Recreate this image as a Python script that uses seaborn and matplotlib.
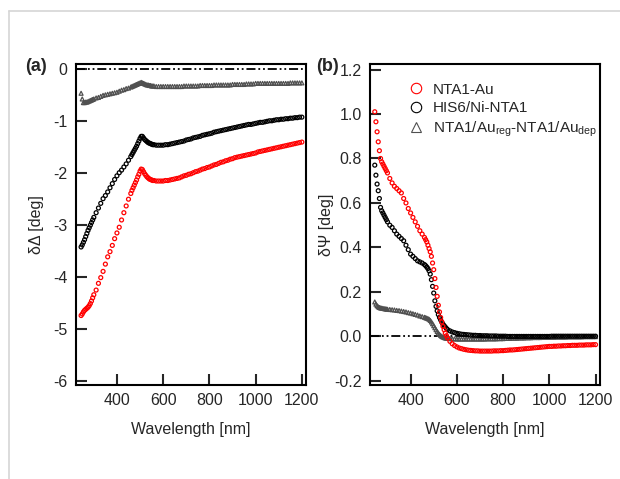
import numpy as np
import pandas as pd
import seaborn as sns
import matplotlib.pyplot as plt
from matplotlib.lines import Line2D

# wavelength grid [nm]
wavelength = np.concatenate([np.arange(245, 301, 5), np.arange(310, 451, 10),
                             np.arange(460, 561, 5), np.arange(570, 1001, 10),
                             np.arange(1010, 1201, 10)])

# (a) delta Delta [deg]
delta_nta1 = [-4.74, -4.71, -4.67, -4.64, -4.62, -4.60, -4.58, -4.55, -4.51, -4.46, -4.40, -4.34,
              -4.25, -4.12, -4.01, -3.89, -3.75, -3.61, -3.51, -3.39, -3.26, -3.15, -3.04, -2.90, -2.76, -2.63, -2.50,
              -2.39, -2.33, -2.28, -2.23, -2.18, -2.13, -2.07, -2.02, -1.96, -1.92, -1.93, -1.97, -2.01, -2.04,
              -2.07, -2.09, -2.11, -2.12, -2.13, -2.14, -2.14,
              -2.15, -2.15, -2.15, -2.15, -2.14, -2.14, -2.13, -2.12, -2.11, -2.10,
              -2.09, -2.07, -2.05, -2.04, -2.02, -2.01, -1.99, -1.97, -1.96, -1.94,
              -1.92, -1.91, -1.89, -1.88, -1.86, -1.84, -1.83, -1.81, -1.79, -1.78,
              -1.76, -1.75, -1.73, -1.72, -1.70, -1.69, -1.68, -1.67, -1.66, -1.65,
              -1.64, -1.63, -1.62, -1.61,
              -1.59, -1.58, -1.57, -1.56, -1.55, -1.54, -1.53, -1.52, -1.51, -1.50,
              -1.49, -1.48, -1.47, -1.46, -1.45, -1.44, -1.43, -1.42, -1.41, -1.40]
delta_his6 = [-3.42, -3.38, -3.33, -3.28, -3.22, -3.16, -3.10, -3.05, -3.00, -2.95, -2.90, -2.85,
              -2.76, -2.67, -2.58, -2.49, -2.43, -2.36, -2.28, -2.20, -2.12, -2.05, -1.99, -1.94, -1.88, -1.82, -1.75,
              -1.68, -1.64, -1.60, -1.56, -1.52, -1.48, -1.43, -1.38, -1.33, -1.29, -1.29, -1.32, -1.35, -1.37,
              -1.39, -1.41, -1.42, -1.43, -1.44, -1.45, -1.45,
              -1.46, -1.46, -1.46, -1.46, -1.45, -1.45, -1.44, -1.43, -1.42, -1.41,
              -1.40, -1.39, -1.38, -1.36, -1.35, -1.34, -1.32, -1.31, -1.30, -1.29,
              -1.27, -1.26, -1.25, -1.24, -1.23, -1.21, -1.20, -1.19, -1.18, -1.17,
              -1.16, -1.15, -1.14, -1.13, -1.12, -1.11, -1.10, -1.09, -1.08, -1.07,
              -1.06, -1.06, -1.05, -1.04,
              -1.03, -1.02, -1.02, -1.01, -1.00, -0.99, -0.99, -0.98, -0.97, -0.97,
              -0.96, -0.96, -0.95, -0.95, -0.94, -0.94, -0.93, -0.93, -0.92, -0.92]
delta_reg = [-0.46, -0.57, -0.64, -0.64, -0.63, -0.63, -0.62, -0.61, -0.60, -0.59, -0.58, -0.57,
             -0.55, -0.54, -0.52, -0.50, -0.49, -0.48, -0.47, -0.46, -0.45, -0.44, -0.42, -0.40, -0.39, -0.37, -0.36,
             -0.34, -0.33, -0.32, -0.31, -0.30, -0.29, -0.28, -0.27, -0.26, -0.25, -0.26, -0.27, -0.28, -0.29,
             -0.30, -0.30, -0.31, -0.31, -0.32, -0.32, -0.32,
             -0.33, -0.33, -0.33, -0.33, -0.33, -0.33, -0.33, -0.33, -0.33, -0.33,
             -0.33, -0.33, -0.32, -0.32, -0.32, -0.32, -0.32, -0.32, -0.32, -0.31,
             -0.31, -0.31, -0.31, -0.31, -0.31, -0.30, -0.30, -0.30, -0.30, -0.30,
             -0.30, -0.30, -0.30, -0.29, -0.29, -0.29, -0.29, -0.29, -0.29, -0.28,
             -0.28, -0.28, -0.28, -0.27,
             -0.27, -0.27, -0.27, -0.27, -0.27, -0.27, -0.27, -0.27, -0.27, -0.27,
             -0.27, -0.27, -0.27, -0.27, -0.26, -0.26, -0.26, -0.26, -0.26, -0.26]

# (b) delta Psi [deg]
psi_nta1 = [1.01, 0.965, 0.92, 0.875, 0.835, 0.80, 0.785, 0.775, 0.765, 0.755, 0.745, 0.735,
            0.71, 0.69, 0.675, 0.665, 0.655, 0.645, 0.62, 0.60, 0.575, 0.555, 0.535, 0.515, 0.495, 0.475, 0.46,
            0.445, 0.435, 0.425, 0.41, 0.395, 0.38, 0.36, 0.33, 0.30, 0.26, 0.22, 0.18, 0.14, 0.11,
            0.085, 0.065, 0.045, 0.03, 0.015, 0.003, -0.007,
            -0.022, -0.033, -0.041, -0.047, -0.052, -0.055, -0.058, -0.060, -0.062, -0.063,
            -0.064, -0.065, -0.065, -0.066, -0.066, -0.066, -0.066, -0.066, -0.066, -0.065,
            -0.065, -0.065, -0.064, -0.064, -0.063, -0.062, -0.061, -0.061, -0.060, -0.059,
            -0.058, -0.057, -0.056, -0.055, -0.054, -0.053, -0.052, -0.051, -0.050, -0.049,
            -0.048, -0.047, -0.046, -0.045,
            -0.045, -0.044, -0.044, -0.043, -0.043, -0.042, -0.042, -0.041, -0.041, -0.040,
            -0.040, -0.040, -0.039, -0.039, -0.039, -0.038, -0.038, -0.038, -0.037, -0.037]
psi_his6 = [0.77, 0.725, 0.685, 0.655, 0.62, 0.58, 0.565, 0.555, 0.545, 0.535, 0.525, 0.515,
            0.50, 0.49, 0.475, 0.46, 0.45, 0.44, 0.43, 0.41, 0.39, 0.37, 0.36, 0.35, 0.34, 0.335, 0.33,
            0.323, 0.318, 0.312, 0.305, 0.295, 0.28, 0.255, 0.225, 0.195, 0.16, 0.135, 0.115, 0.098, 0.085,
            0.074, 0.064, 0.055, 0.048, 0.042, 0.036, 0.031,
            0.025, 0.020, 0.017, 0.014, 0.012, 0.010, 0.009, 0.008, 0.007, 0.006,
            0.005, 0.005, 0.004, 0.004, 0.003, 0.003, 0.003, 0.002, 0.002, 0.002,
            0.002, 0.001, 0.001, 0.001, 0.001, 0.000, 0.000, 0.000, 0.000, 0.000,
            0.000, 0.000, 0.000, 0.000, 0.000, 0.000, 0.000, 0.000, 0.000, 0.000,
            0.000, 0.000, 0.000, 0.000,
            0.001, 0.001, 0.001, 0.001, 0.001, 0.001, 0.001, 0.001, 0.001, 0.001,
            0.001, 0.001, 0.001, 0.001, 0.001, 0.001, 0.001, 0.001, 0.001, 0.001]
psi_reg = [0.155, 0.145, 0.138, 0.133, 0.130, 0.128, 0.127, 0.126, 0.125, 0.124, 0.123, 0.122,
           0.121, 0.120, 0.119, 0.117, 0.116, 0.114, 0.112, 0.110, 0.107, 0.105, 0.102, 0.099, 0.096, 0.092, 0.089,
           0.086, 0.084, 0.082, 0.080, 0.077, 0.072, 0.065, 0.057, 0.048, 0.039, 0.030, 0.022, 0.015, 0.009,
           0.004, 0.000, -0.003, -0.005, -0.007, -0.008, -0.009,
           -0.010, -0.011, -0.011, -0.012, -0.012, -0.012, -0.012, -0.012, -0.012, -0.012,
           -0.012, -0.012, -0.012, -0.012, -0.012, -0.012, -0.011, -0.011, -0.011, -0.011,
           -0.011, -0.010, -0.010, -0.010, -0.009, -0.009, -0.009, -0.008, -0.008, -0.008,
           -0.007, -0.007, -0.007, -0.006, -0.006, -0.006, -0.005, -0.005, -0.005, -0.005,
           -0.004, -0.004, -0.004, -0.004,
           -0.004, -0.004, -0.003, -0.003, -0.003, -0.003, -0.003, -0.002, -0.002, -0.002,
           -0.002, -0.002, -0.002, -0.002, -0.001, -0.001, -0.001, -0.001, -0.001, -0.001]

labels = ['NTA1-Au', 'HIS6/Ni-NTA1', 'NTA1/Au$_{\\mathregular{reg}}$-NTA1/Au$_{\\mathregular{dep}}$']
colors = ['#ff0000', '#000000', '#505050']
markers = ['o', 'o', '^']
xticks = [400, 600, 800, 1000, 1200]

sns.set_style('white')
plt.rcParams['font.family'] = ['Liberation Sans', 'DejaVu Sans']
plt.rcParams['axes.unicode_minus'] = False
plt.rcParams['mathtext.default'] = 'regular'

fig = plt.figure(figsize=(6.2, 4.79), dpi=100)
ax_a = fig.add_axes([0.1226, 0.196, 0.371, 0.670])
ax_b = fig.add_axes([0.597, 0.196, 0.371, 0.670])

df_a = pd.DataFrame({'wl': wavelength, 's0': delta_nta1, 's1': delta_his6, 's2': delta_reg})
df_b = pd.DataFrame({'wl': wavelength, 's0': psi_nta1, 's1': psi_his6, 's2': psi_reg})

for ax, df in [(ax_a, df_a), (ax_b, df_b)]:
    ax.axhline(0, color='k', lw=1.3, dashes=(5, 1.6, 1, 1.6, 1, 1.6), zorder=1)
    for i in [2, 1, 0]:
        sns.scatterplot(data=df, x='wl', y=f's{i}', ax=ax, marker=markers[i], s=8,
                        facecolor='none', edgecolor=colors[i], linewidth=0.9, zorder=3)
    ax.set_xticks(xticks)
    ax.tick_params(direction='in', length=8, width=1.5, labelsize=11.5, pad=6,
                   left=True, bottom=True, top=False, right=False)
    for sp in ax.spines.values():
        sp.set_linewidth(1.5)
        sp.set_color('k')
    ax.set_xlabel('Wavelength [nm]', fontsize=11.5, va='top')
    ax.xaxis.set_label_coords(0.5, -0.116)

ax_a.set_xlim(223, 1218)
ax_a.set_ylim(-6.08, 0.1)
ax_a.set_yticks([0, -1, -2, -3, -4, -5, -6])
ax_a.set_ylabel('δΔ [deg]', fontsize=11.5)
ax_a.yaxis.set_label_coords(-0.139, 0.5)

ax_b.set_xlim(225, 1220)
ax_b.set_ylim(-0.219, 1.224)
ax_b.set_yticks([-0.2, 0.0, 0.2, 0.4, 0.6, 0.8, 1.0, 1.2])
ax_b.set_yticklabels(['-0.2', '0.0', '0.2', '0.4', '0.6', '0.8', '1.0', '1.2'])
ax_b.set_ylabel('δΨ [deg]', fontsize=11.5)
ax_b.yaxis.set_label_coords(-0.159, 0.5)

handles = [Line2D([], [], ls='none', marker=markers[i], ms=7.5, mfc='none',
                  mec=colors[i], mew=0.8) for i in range(3)]
ax_b.legend(handles, labels, loc='upper left', bbox_to_anchor=(0.1, 0.985),
            frameon=False, fontsize=11, handlelength=1.2, handletextpad=0.5,
            labelspacing=0.3)

fig.text(0.041, 0.862, '(a)', fontsize=13, fontweight='bold', va='center')
fig.text(0.510, 0.862, '(b)', fontsize=13, fontweight='bold', va='center')

# light page frame
fig.add_artist(Line2D([9 / 620, 1], [1 - 11 / 479, 1 - 11 / 479], color='#d5d5d5', lw=1.2))
fig.add_artist(Line2D([9 / 620, 9 / 620], [0, 1 - 11 / 479], color='#d5d5d5', lw=1.2))

fig.savefig('out.png', dpi=100)
